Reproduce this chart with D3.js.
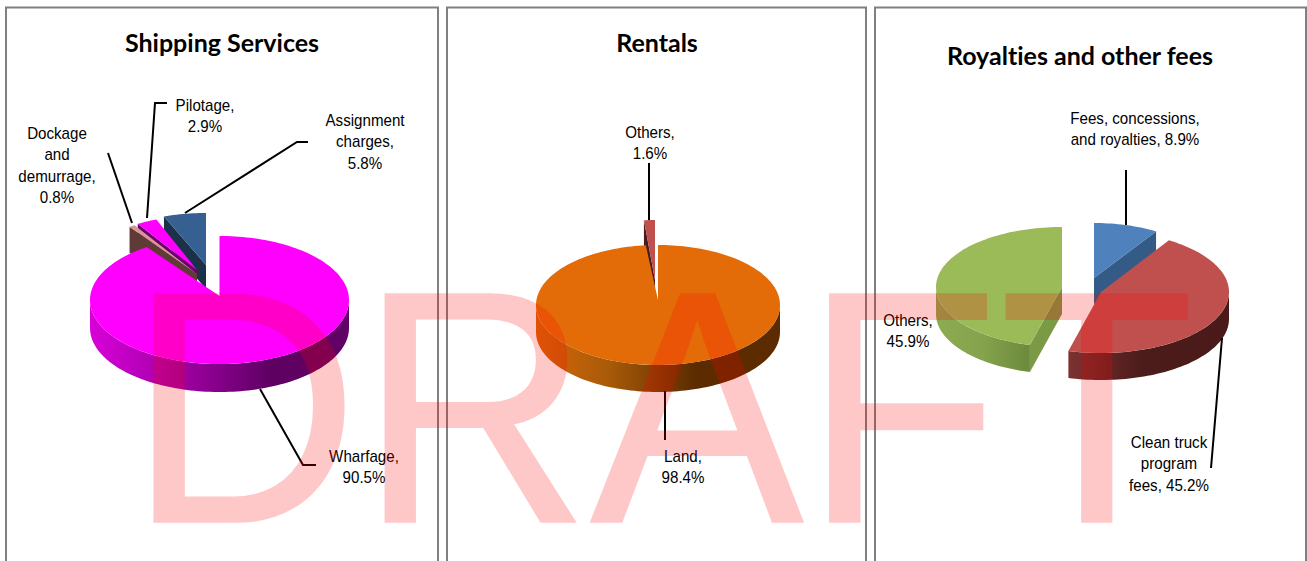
<!DOCTYPE html>
<html><head><meta charset="utf-8">
<script src="https://cdnjs.cloudflare.com/ajax/libs/d3/7.8.5/d3.min.js"></script>
<style>html,body{margin:0;padding:0;background:#fff;overflow:hidden}svg{display:block}text{font-variant-ligatures:none}</style>
</head><body><svg id="c" width="1307" height="561"></svg>
<script>
// ---- data ----
const shippingNames = ["Wharfage","Dockage and demurrage","Pilotage","Assignment charges"];
const shippingValues = [90.5,0.8,2.9,5.8];
const rentalNames = ["Land","Others"];
const rentalValues = [98.4,1.6];
const royaltyNames = ["Fees, concessions, and royalties","Clean truck program fees","Others"];
const royaltyValues = [8.9,45.2,45.9];
const titles = ["Shipping Services","Rentals","Royalties and other fees"];
const watermark = "DRAFT";

// ---- layout and style ----
const svg = d3.select("#c");
const defs = svg.append("defs");
const TAU = Math.PI*2;
let gid = 0;
function wallGradient(stops){
  const id = "g"+(gid++);
  const g = defs.append("linearGradient").attr("id",id).attr("x1",0).attr("x2",1).attr("y1",0).attr("y2",0);
  stops.forEach(c=>g.append("stop").attr("offset",c[0]).attr("stop-color",c[1]));
  return "url(#"+id+")";
}
function pt(s,a){return [s.cx+Math.sin(a)*s.rx, s.cy-Math.cos(a)*s.ry];}
function arcPath(s,a0,a1,y0=0,move=true){
  const n = Math.max(2,Math.ceil((a1-a0)/0.03));
  const pts = d3.range(n+1).map(i=>{const p=pt(s,a0+(a1-a0)*i/n);return [p[0],p[1]+y0];});
  return (move?"M":"L")+pts.map(p=>p[0].toFixed(2)+","+p[1].toFixed(2)).join("L");
}
function revArc(s,a0,a1,y0){
  const n = Math.max(2,Math.ceil((a1-a0)/0.03));
  const pts = d3.range(n+1).map(i=>{const p=pt(s,a1-(a1-a0)*i/n);return [p[0],p[1]+y0];});
  return "L"+pts.map(p=>p[0].toFixed(2)+","+p[1].toFixed(2)).join("L");
}
function drawSlice(g,arc,s){
  const a0=arc.startAngle,a1=arc.endAngle,d=s.depth;
  const c=[s.cx,s.apexY===undefined?s.cy:s.apexY];
  const faces=[];
  if(Math.sin(a0)<-1e-6) faces.push(a0);
  if(Math.sin(a1)>1e-6) faces.push(a1);
  faces.forEach(a=>{
    const p=pt(s,a);
    g.append("path").attr("d",`M${c[0]},${c[1]}L${p[0]},${p[1]}L${p[0]},${p[1]+d}L${c[0]},${c[1]+d}Z`).attr("fill",s.face);
  });
  const lo=Math.max(a0,Math.PI/2), hi=Math.min(a1,Math.PI*1.5);
  if(hi>lo){
    g.append("path").attr("d",arcPath(s,lo,hi,0)+revArc(s,lo,hi,d)+"Z").attr("fill",s.wall);
  }
  g.append("path").attr("d",`M${c[0]},${c[1]}`+arcPath(s,a0,a1,0,false)+"Z").attr("fill",s.top);
}
const magWall = wallGradient([[0,"#d800d8"],[.35,"#a000a4"],[.7,"#5e0062"],[1,"#620066"]]);
const oraWall = wallGradient([[0,"#d86808"],[.3,"#a85a08"],[.65,"#5c2c00"],[1,"#5c2c00"]]);
const redWall = wallGradient([[0,"#7c3231"],[.45,"#4c1c1b"],[1,"#4a1a1a"]]);
const grnWall = wallGradient([[0,"#8cab52"],[.5,"#84a34c"],[1,"#6c8a3e"]]);

const pieGen = d3.pie().sort(null).value(d=>d).startAngle(0).endAngle(TAU);
const panels = [[6,438],[447,866],[875,1306]];
const g0 = svg.append("g");
panels.forEach(p=>{
  g0.append("path").attr("d",`M${p[0]},562V7.5H${p[1]}V562`).attr("fill","none").attr("stroke","#808080").attr("stroke-width",2);
});
const titleX=[222,657,1080], titleY=[52,52,65];
titles.forEach((t,i)=>g0.append("text").attr("x",titleX[i]).attr("y",titleY[i]).attr("text-anchor","middle")
  .style("font",'bold 25px Lato, sans-serif').style("font-variant-ligatures","none").attr("fill","#000").text(t));

const shipStyles = [
  {order:3,cx:219.5,cy:300,apexY:296,rx:129.5,ry:64,depth:28,top:"#ff00ff",face:"#5e0062",wall:magWall},
  {order:2,cx:197,cy:274,rx:120,ry:57,depth:26,top:"#d99694",face:"#5f3a36",wall:"#5f3a36"},
  {order:1,cx:197,cy:270,rx:114,ry:54,depth:22,top:"#ff00ff",face:"#6a006e",wall:"#6a006e"},
  {order:0,cx:206,cy:265,rx:118,ry:52,depth:24,top:"#376092",face:"#1b3049",wall:"#1b3049"}
];
const rentStyles = [
  {order:1,cx:658,cy:305,apexY:300,rx:122,ry:60,depth:27,top:"#e36c09",face:"#5c2c00",wall:oraWall},
  {order:0,cx:655,cy:280,rx:110,ry:60,depth:25,top:"#c0504d",face:"#4a1c1b",wall:"#4a1c1b"}
];
const royStyles = [
  {order:0,cx:1094,cy:278,rx:117,ry:55,depth:26,top:"#4f81bd",face:"#345a86",wall:"#345a86"},
  {order:1,cx:1101,cy:292,rx:128,ry:61,depth:27,top:"#c0504d",face:"#632523",wall:redWall},
  {order:0,cx:1062,cy:287,rx:126,ry:60,depth:27,top:"#9bbb59",face:"#7b9a45",wall:grnWall}
];
[[shippingValues,shipStyles],[rentalValues,rentStyles],[royaltyValues,royStyles]].forEach(([vals,styles])=>{
  const arcs = pieGen(vals);
  const g = svg.append("g");
  d3.range(vals.length).sort((a,b)=>styles[a].order-styles[b].order).forEach(i=>drawSlice(g,arcs[i],styles[i]));
});

const leaders = [
 [[108,153],[132,223]],
 [[147,218],[155,103],[167,103]],
 [[185,213],[297,142],[308,142]],
 [[260,389],[303,465],[316,465]],
 [[649,163],[649,220]],
 [[665,391],[665,440]],
 [[1126,170],[1126,225]],
 [[1222,338],[1211,468]]
];
const lineGen=d3.line();
leaders.forEach(l=>svg.append("path").attr("d",lineGen(l)).attr("fill","none").attr("stroke","#000").attr("stroke-width",2));

const fmt = v=>v.toFixed(1)+"%";
const labels = [
 {x:57,y:139,lines:["Dockage","and","demurrage,",fmt(shippingValues[1])]},
 {x:205,y:111,lines:["Pilotage,",fmt(shippingValues[2])]},
 {x:365,y:126,lines:["Assignment","charges,",fmt(shippingValues[3])]},
 {x:364,y:462,lines:[shippingNames[0]+",",fmt(shippingValues[0])]},
 {x:650,y:138,lines:[rentalNames[1]+",",fmt(rentalValues[1])]},
 {x:683,y:462,lines:[rentalNames[0]+",",fmt(rentalValues[0])]},
 {x:1135,y:124,lines:["Fees, concessions,","and royalties, "+fmt(royaltyValues[0])]},
 {x:908,y:326,lines:[royaltyNames[2]+",",fmt(royaltyValues[2])]},
 {x:1169,y:448,lines:["Clean truck","program","fees, "+fmt(royaltyValues[1])]}
];
labels.forEach(l=>{
  const t=svg.append("text").attr("text-anchor","middle").attr("fill","#000")
    .attr("transform",`translate(${l.x},${l.y}) scale(.89,1)`)
    .style("font",'17px "Liberation Sans", Arial, sans-serif');
  l.lines.forEach((s,i)=>t.append("tspan").attr("x",0).attr("y",i*21.4).text(s));
});

svg.append("text").attr("transform","translate(128,522) scale(1,1.036)")
  .attr("fill","#ff0000").attr("stroke","#ff0000").attr("stroke-width",1.5).attr("opacity",.21)
  .style("font",'320px "Liberation Sans", Arial, sans-serif').text(watermark);
</script></body></html>
